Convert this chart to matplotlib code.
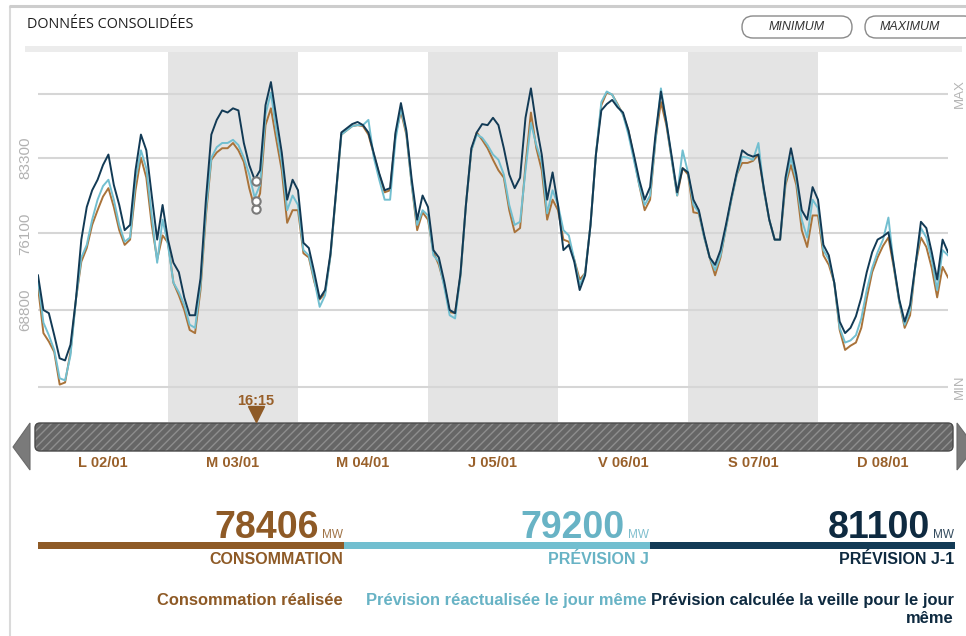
import matplotlib
matplotlib.use('Agg')
import matplotlib.pyplot as plt
import numpy as np
import matplotlib.transforms as mtransforms
from matplotlib.patches import Rectangle, FancyBboxPatch, Polygon

plt.rcParams['font.family'] = ['Liberation Sans', 'DejaVu Sans']

# ---------------- data ----------------
days = ['L 02/01', 'M 03/01', 'M 04/01', 'J 05/01', 'V 06/01', 'S 07/01', 'D 08/01']
shaded_days = [1, 3, 5]

consommation = [
    71000, 66600, 65800, 64800, 61700, 61900, 64800, 69800, 73400, 74700, 76900, 78300,
    79600, 80400, 78600, 76400, 75000, 75500, 80200, 83300, 81400, 76900, 73600, 75900,
    75200, 71400, 70200, 68800, 66900, 66600, 70700, 77800, 83100, 83800, 84200, 84200,
    84700, 84000, 82900, 80400, 78500, 79900, 86400, 88000, 85000, 82100, 77100, 78300,
    78300, 74200, 73800, 71500, 69800, 70400, 74000, 79700, 85500, 85900, 86300, 86400,
    86300, 85500, 83600, 81700, 80000, 80200, 85500, 87700, 85500, 80700, 76400, 78100,
    77400, 74300, 73100, 71200, 68600, 68500, 72100, 78800, 84000, 85700, 85000, 84200,
    83100, 82100, 81400, 78300, 76200, 76600, 82600, 87600, 84200, 82100, 77400, 79300,
    78300, 75500, 75300, 73600, 71700, 72300, 76900, 83600, 88300, 89500, 89300, 88400,
    87400, 85900, 83400, 80700, 78300, 79300, 85000, 88600, 86400, 83100, 79700, 82300,
    81700, 78100, 78000, 75700, 73800, 72100, 73800, 76600, 79300, 81700, 82800, 82800,
    83000, 83600, 80200, 77400, 75500, 75500, 80700, 82600, 80700, 76400, 74800, 77800,
    77800, 74000, 73100, 71400, 66900, 65000, 65400, 65700, 67100, 69900, 72400, 73800,
    74900, 75700, 72800, 69600, 67100, 68300, 73100, 75700, 74800, 72800, 70000, 72900,
    71900,
]

prevision_j = [
    71700, 67600, 66400, 65000, 62300, 62100, 64500, 69800, 73800, 75000, 77400, 79300,
    80600, 81200, 79300, 76900, 75300, 75700, 81200, 84000, 82300, 77800, 73300, 77400,
    75000, 71400, 70500, 69300, 67400, 67100, 71200, 78300, 83300, 84300, 84700, 84700,
    85000, 84500, 83300, 81700, 79500, 80700, 87400, 89500, 85900, 82900, 78300, 79700,
    78800, 74500, 74000, 71700, 69100, 70200, 74000, 79700, 85500, 85900, 86300, 86400,
    86400, 86900, 83300, 81200, 79300, 79300, 85000, 88000, 85700, 80700, 76900, 78300,
    77800, 74000, 73400, 71000, 68300, 68000, 72100, 78800, 84000, 85500, 85200, 84500,
    83600, 83100, 81700, 78800, 76900, 77200, 82100, 86600, 84500, 82900, 78000, 80200,
    78800, 76400, 75900, 73600, 71200, 72300, 76900, 83600, 88600, 89600, 89300, 88300,
    87400, 85500, 83100, 80700, 78800, 79700, 85000, 89900, 86700, 83100, 79700, 84000,
    81900, 78800, 78100, 75700, 73800, 72600, 74000, 76600, 79300, 81700, 83400, 83300,
    83100, 84700, 80200, 77400, 75500, 75500, 81000, 83300, 81200, 77400, 75700, 79300,
    78500, 74500, 73600, 71400, 67100, 65700, 65900, 66400, 68000, 70700, 72800, 74300,
    75500, 77600, 73000, 69600, 67400, 68800, 73100, 76600, 75700, 73600, 70700, 74500,
    74000,
]

prevision_j1 = [
    72100, 68800, 68500, 66400, 64200, 64000, 65500, 69800, 75500, 78600, 80200, 81200,
    82600, 83600, 80700, 78800, 76400, 76900, 82100, 85500, 84000, 79700, 75500, 78800,
    75500, 73300, 72400, 70000, 68300, 68300, 71800, 79300, 85500, 86900, 87800, 87600,
    88000, 87800, 84700, 82600, 81200, 82100, 88300, 90500, 87100, 83800, 79300, 81200,
    80200, 75200, 74700, 72400, 69900, 70700, 74200, 79900, 85700, 86100, 86500, 86700,
    86400, 85700, 83700, 81800, 80200, 80400, 85700, 88500, 85900, 81200, 77400, 79700,
    78600, 74500, 73800, 71500, 68800, 68500, 72300, 78800, 84200, 85700, 86500, 86400,
    87100, 86400, 84200, 81700, 80400, 81400, 87100, 89900, 86400, 83600, 79300, 81900,
    78800, 74500, 75000, 73400, 70700, 72100, 76900, 83600, 87800, 88400, 88800, 88100,
    87600, 85900, 83600, 81200, 79300, 80500, 85500, 89600, 86700, 83400, 80000, 82300,
    81900, 79300, 78300, 75900, 73800, 73100, 74500, 76900, 79500, 81900, 84000, 83600,
    83400, 83600, 80400, 77400, 75500, 75500, 81400, 84200, 81700, 78300, 77400, 80500,
    79300, 75000, 74000, 71400, 67700, 66600, 67100, 68200, 70000, 72400, 74300, 75500,
    75800, 76200, 73100, 69800, 67700, 69300, 73100, 77200, 76600, 74300, 71700, 75500,
    74300,
]

ytick_values = [68800, 76100, 83300]
grid_min = 61500
grid_max = 89400

cursor_hour = 40.25
cursor_label = '16:15'
cursor_values = [78406, 79200, 81100]
series_titles = ['CONSOMMATION', 'PRÉVISION J', 'PRÉVISION J-1']
legend_labels = ['Consommation réalisée', 'Prévision réactualisée le jour même',
                 'Prévision calculée la veille pour le jour\nmême']

# ---------------- style ----------------
line_colors = ['#a9733a', '#72bfd0', '#123a55']
text_colors = ['#8e5a26', '#68b3c5', '#0e2a40']
brown_txt = '#99602a'

W, H = 966, 636
fig = plt.figure(figsize=(W / 100, H / 100), dpi=100)
fig.patch.set_facecolor('white')

deco = fig.add_axes([0, 0, 1, 1], zorder=0)
deco.set_xlim(0, W)
deco.set_ylim(H, 0)
deco.axis('off')

# frame
deco.plot([10, 10], [6, H], color='#dadada', lw=1.5, solid_capstyle='butt')
deco.plot([9, W], [6, 6], color='#cdcdcd', lw=2.2, solid_capstyle='butt')
deco.add_patch(Rectangle((25, 46), 937, 6, color='#ececec', lw=0))

deco.text(27, 25, 'DONNÉES CONSOLIDÉES', fontsize=10.4, family='Open Sans',
          color='#1e1e1e', va='center', ha='left')

for x0, w, lab, tx in [(742, 110, 'MINIMUM', 797), (865, 110, 'MAXIMUM', 910)]:
    deco.add_patch(FancyBboxPatch((x0, 16), w, 22,
                                  boxstyle='round,pad=0,rounding_size=11',
                                  facecolor='white', edgecolor='#8a8a8a', lw=1))
    deco.text(tx, 27.5, lab, fontsize=9, style='italic', color='#333333',
              ha='center', va='center')

# slider
deco.add_patch(FancyBboxPatch((35, 423), 918, 28,
                              boxstyle='round,pad=0,rounding_size=5',
                              facecolor='#666666', edgecolor='#8e8e8e', hatch='////', lw=0))
deco.add_patch(FancyBboxPatch((35, 423), 918, 28,
                              boxstyle='round,pad=0,rounding_size=5',
                              fill=False, edgecolor='#4a4a4a', lw=1))
deco.add_patch(Polygon([(30, 423), (30, 470), (13, 447)], closed=True,
                       facecolor='#7a7a7a', edgecolor='#6a6a6a', lw=0.8))
deco.add_patch(Polygon([(957, 423), (957, 470), (975, 447)], closed=True,
                       facecolor='#7a7a7a', edgecolor='#6a6a6a', lw=0.8))

# bottom summary
seg_edges = [38, 344, 650, 955]
for i in range(3):
    x0, x1 = seg_edges[i], seg_edges[i + 1]
    deco.add_patch(Rectangle((x0, 542), x1 - x0, 7,
                             color=line_colors[i] if i else text_colors[0], lw=0))
    deco.text(x1 - 25, 538, str(cursor_values[i]), ha='right', va='baseline',
              fontsize=27, fontweight='bold', color=text_colors[i])
    deco.text(x1 - 1, 538, 'MW', ha='right', va='baseline', fontsize=8.5,
              color=text_colors[i], alpha=0.85)
    deco.text(x1 - 1, 560, series_titles[i], ha='right', va='center',
              fontsize=11.5, fontweight='bold', color=text_colors[i])
    deco.text(x1 - 1 - (2 if i == 1 else 0), 593, legend_labels[i], ha='right', va='top',
              multialignment='right', fontsize=11.9, fontweight='bold',
              color=text_colors[i], linespacing=1.25)

# ---------------- main chart ----------------
ax = fig.add_axes([38 / W, 1 - 422 / H, 910 / W, 370 / H], zorder=1)
ax.patch.set_alpha(0)
ymin = 98312 - 95.2 * 422
ymax = 98312 - 95.2 * 52
ax.set_ylim(ymin, ymax)
ax.set_xlim(0, 24 * len(days))
for s in ax.spines.values():
    s.set_visible(False)

for d in shaded_days:
    ax.axvspan(24 * d, 24 * (d + 1), color='#e4e4e4', lw=0, zorder=0)
for v in [grid_min] + ytick_values + [grid_max]:
    ax.axhline(v, color='#d6d6d6', lw=1.5, zorder=1)

for series, c in zip([consommation, prevision_j, prevision_j1], line_colors):
    ax.plot(np.arange(len(series)), series, color=c, lw=1.4, zorder=3,
            solid_joinstyle='round')

ax.plot([cursor_hour] * 3, cursor_values, 'o', ms=6, mfc='white', mec='#7a7a7a',
        mew=1.5, zorder=5, clip_on=False)

ax.set_xticks([])
ax.set_yticks(ytick_values)
ax.set_yticklabels([str(v) for v in ytick_values], rotation=90, va='center',
                   color='#b2b2b2', fontsize=11)
ax.tick_params(axis='y', length=0, pad=4)

bt = mtransforms.blended_transform_factory(ax.transData, ax.transAxes)
bt2 = mtransforms.blended_transform_factory(ax.transAxes, ax.transData)
ax.text(1.0125, grid_max, 'MAX', transform=bt2, rotation=90, ha='center', va='center',
        color='#b5b5b5', fontsize=9.5, clip_on=False)
ax.text(1.0125, grid_min, 'MIN', transform=bt2, rotation=90, ha='center', va='center',
        color='#b5b5b5', fontsize=9.5, clip_on=False)

ax.text(cursor_hour, (422 - 401) / 370, cursor_label, transform=bt, ha='center',
        va='center', fontsize=10.5, fontweight='bold', color=brown_txt, clip_on=False)
ax.plot([cursor_hour], [(422 - 414) / 370], marker='v', ms=11, color=text_colors[0],
        transform=bt, clip_on=False, zorder=6)

for i, d in enumerate(days):
    ax.text(24 * i + 12, (422 - 463) / 370, d, transform=bt, ha='center', va='center',
            fontsize=10.5, fontweight='bold', color=brown_txt, clip_on=False)

fig.savefig('out.png', dpi=100)
